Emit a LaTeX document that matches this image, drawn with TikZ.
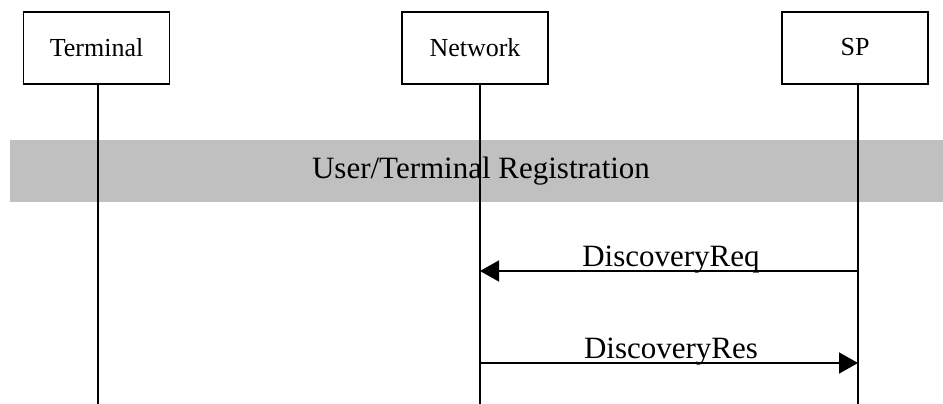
\documentclass[tikz,border=0pt]{standalone}
\usepackage{fontspec}
\setmainfont{Liberation Serif}
\usetikzlibrary{positioning,arrows.meta}
\definecolor{bandgray}{RGB}{192,192,192}

\begin{document}
\begin{tikzpicture}[
    x=1pt, y=-1pt,
    every node/.style={align=center},
    entity/.style={rectangle, draw, line width=1.3pt, minimum width=146pt, minimum height=72pt, inner sep=0pt, font=\fontsize{26}{30}\selectfont},
    band/.style={rectangle, fill=bandgray, minimum width=933pt, minimum height=62pt, inner sep=0pt, font=\fontsize{31}{36}\selectfont},
    lifeline/.style={line width=1.6pt},
    msg/.style={line width=1.6pt, -{Triangle[length=19pt,width=21pt]}},
    msglabel/.style={anchor=base, yshift=5pt, xshift=2pt, font=\fontsize{31}{36}\selectfont}
]
\useasboundingbox (0,0) rectangle (943,404);

% Entities
\node[entity] (terminal) at (96.5,48) {\raisebox{2pt}{Terminal}};
\node[entity] (network) at (475,48) {\raisebox{2pt}{Network}};
\node[entity] (sp) at (855,48) {\raisebox{2pt}{SP}};

% Procedure band
\node[band] (registration) at (476.5,171) {\hspace*{9pt}User/Terminal Registration};

% Lifelines
\coordinate (terminal end) at (98,404);
\coordinate (network end) at (480,404);
\coordinate (sp end) at (858,404);
\draw[lifeline] (terminal.south -| terminal end) -- (terminal end);
\draw[lifeline] (network.south -| network end) -- (network end);
\draw[lifeline] (sp.south -| sp end) -- (sp end);

% Messages
\coordinate (sp req) at (858,271);
\coordinate (network req) at (480,271);
\coordinate (network res) at (480,363);
\coordinate (sp res) at (858,363);
\draw[msg] (sp req) -- node[msglabel] {DiscoveryReq} (network req);
\draw[msg] (network res) -- node[msglabel] {DiscoveryRes} (sp res);

\end{tikzpicture}
\end{document}
